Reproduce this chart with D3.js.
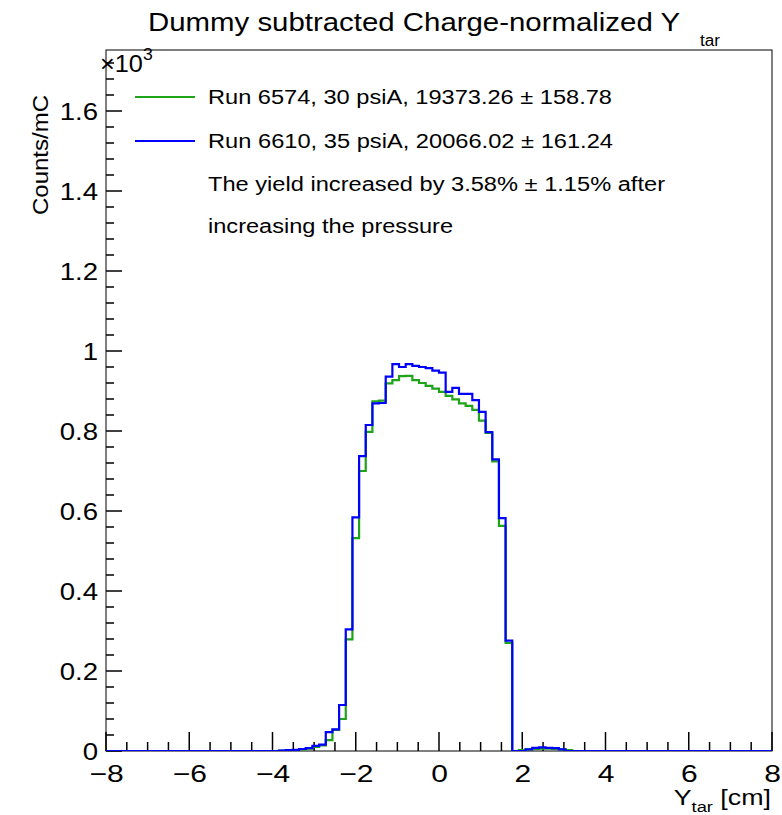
<!DOCTYPE html>
<html>
<head>
<meta charset="utf-8">
<script src="https://cdn.jsdelivr.net/npm/d3@7"></script>
<style>
  html, body { margin: 0; padding: 0; background: #fff; }
  svg { display: block; font-family: "Liberation Sans", Arial, Helvetica, sans-serif; }
</style>
</head>
<body>
<svg id="chart" width="782" height="815"></svg>
<script>
// ---------------- data ----------------
const nBins = 100;
const xMin = -8, xMax = 8;
// Charge-normalized counts per bin (counts/mC), bins 0..99
const run6574 = [
  0,0,0,0,0,0,0,0,0,0,
  0,0,0,0,0,0,0,0,0,0,
  0,0,0,0,0,0,1,1,2,4,
  6,10,14,27,53,80,279,532,700,798,
  874,876,919,927,937,938,927,920,913,906,
  898,888,879,869,863,853,826,795,724,563,
  270,0,2,4,5,6,6,5,4,2,
  0,0,0,0,0,0,0,0,0,0,
  0,0,0,0,0,0,0,0,0,0,
  0,0,0,0,0,0,0,0,0,0
];
const run6610 = [
  0,0,0,0,0,0,0,0,0,0,
  0,0,0,0,0,0,0,0,0,0,
  0,0,0,0,0,0,1,2,3,5,
  7,13,16,47,54,115,304,584,737,815,
  869,870,936,967,960,967,963,960,957,951,
  946,898,908,893,893,877,848,797,729,582,
  276,0,0,4,8,9,8,7,4,0,
  0,0,0,0,0,0,0,0,0,0,
  0,0,0,0,0,0,0,0,0,0,
  0,0,0,0,0,0,0,0,0,0
];
const seriesNames = [
  "Run 6574, 30 psiA, 19373.26 \u00b1 158.78",
  "Run 6610, 35 psiA, 20066.02 \u00b1 161.24"
];
const noteLines = [
  "The yield increased by 3.58% \u00b1 1.15% after",
  "increasing the pressure"
];
const xTickValues = [-8, -6, -4, -2, 0, 2, 4, 6, 8];
const yTickValues = [0, 200, 400, 600, 800, 1000, 1200, 1400, 1600];
const yMax = 1752.5;

// ---------------- layout ----------------
const L = 106, R = 772, T = 50, B = 751;
const svg = d3.select("#chart");
const x = d3.scaleLinear().domain([xMin, xMax]).range([L, R]);
const y = d3.scaleLinear().domain([0, yMax]).range([B, T]);
const binW = (xMax - xMin) / nBins;
const SX = 1.2; // horizontal stretch of the reference lettering

const colors = ["#1fa31a", "#0000ff"];

svg.append("defs").append("clipPath").attr("id", "clip")
  .append("rect").attr("x", L).attr("y", T).attr("width", R - L).attr("height", B - T);

function stepPath(vals) {
  let d = "";
  vals.forEach((v, i) => {
    const x0 = x(xMin + i * binW), x1 = x(xMin + (i + 1) * binW);
    const yy = y(v);
    d += (i === 0 ? "M" : "L") + x0 + "," + yy + "L" + x1 + "," + yy;
  });
  return d;
}

// frame
svg.append("rect").attr("x", L).attr("y", T).attr("width", R - L).attr("height", B - T)
  .attr("fill", "none").attr("stroke", "#000").attr("stroke-width", 1);

// x axis labels
const xAxis = d3.axisBottom(x).tickValues(xTickValues).tickSize(0)
  .tickFormat(d => d < 0 ? "\u2212" + Math.abs(d) : String(d));
const gx = svg.append("g").attr("transform", `translate(0,${B})`).call(xAxis);
gx.select(".domain").remove();
gx.selectAll(".tick text").attr("font-size", 24).attr("dy", 0).attr("y", 0).attr("fill", "#000")
  .attr("font-family", "Liberation Sans, Arial, sans-serif")
  .attr("transform", `translate(0,31) scale(1.25,1)`);

const xMinor = d3.range(0, 33).map(i => xMin + i * 0.5);
svg.append("g").selectAll("line").data(xMinor).join("line")
  .attr("x1", d => x(d)).attr("x2", d => x(d))
  .attr("y1", B).attr("y2", d => B - (Math.abs(d % 2) < 1e-9 ? 19 : 9))
  .attr("stroke", "#000").attr("stroke-width", 1.5);

// y axis labels
const yAxis = d3.axisLeft(y).tickValues(yTickValues).tickSize(0)
  .tickFormat(d => d3.format("~g")(d / 1000));
const gy = svg.append("g").attr("transform", `translate(${L},0)`).call(yAxis);
gy.select(".domain").remove();
gy.selectAll(".tick text").attr("font-size", 23).attr("x", 0).attr("dy", "0.36em").attr("fill", "#000")
  .attr("font-family", "Liberation Sans, Arial, sans-serif")
  .attr("transform", `translate(-8,0) scale(${SX},1)`);

const yMinor = d3.range(0, 44).map(i => i * 40);
svg.append("g").selectAll("line").data(yMinor).join("line")
  .attr("x1", L).attr("x2", d => L + (d % 200 === 0 ? 16 : 8))
  .attr("y1", d => y(d)).attr("y2", d => y(d))
  .attr("stroke", "#000").attr("stroke-width", 1.5);

// histograms
const gh = svg.append("g").attr("clip-path", "url(#clip)");
[run6574, run6610].forEach((vals, i) => {
  gh.append("path").attr("d", stepPath(vals))
    .attr("fill", "none").attr("stroke", colors[i]).attr("stroke-width", 2.2);
});

// title
svg.append("text").attr("x", 148).attr("y", 31)
  .attr("font-size", 26).attr("fill", "#000")
  .attr("textLength", 532).attr("lengthAdjust", "spacingAndGlyphs")
  .text("Dummy subtracted Charge-normalized Y");
svg.append("text").attr("x", 700).attr("y", 46).attr("font-size", 16).attr("fill", "#000")
  .attr("textLength", 20).attr("lengthAdjust", "spacingAndGlyphs").text("tar");

// exponent
const ex = svg.append("text").attr("transform", "translate(100,72) scale(1.1,1)")
  .attr("font-size", 23).attr("fill", "#000");
ex.append("tspan").text("\u00d710");
ex.append("tspan").attr("font-size", 16).attr("dy", -12).text("3");

// y title
svg.append("text").attr("transform", "translate(48,95) rotate(-90)").attr("text-anchor", "end")
  .attr("font-size", 22).attr("fill", "#000")
  .attr("textLength", 120).attr("lengthAdjust", "spacingAndGlyphs").text("Counts/mC");

// x title
const xtg = svg.append("g").attr("transform", "translate(771,805)");
const xt = xtg.append("text").attr("text-anchor", "end").attr("font-size", 22).attr("fill", "#000")
  .attr("transform", `scale(1.22,1)`);
xt.append("tspan").text("Y");
xt.append("tspan").attr("font-size", 15).attr("dy", 7).text("tar");
xt.append("tspan").attr("dy", -7).text(" [cm]");

// legend
const legY = [97, 141];
const legW = [404, 405];
seriesNames.forEach((name, i) => {
  svg.append("line").attr("x1", 135).attr("x2", 195).attr("y1", legY[i]).attr("y2", legY[i])
    .attr("stroke", colors[i]).attr("stroke-width", 2.2);
  svg.append("text").attr("x", 208).attr("y", legY[i] + 7).attr("font-size", 20).attr("fill", "#000")
    .attr("textLength", legW[i]).attr("lengthAdjust", "spacingAndGlyphs").text(name);
});
const noteY = [184, 226];
const noteW = [457, 245];
noteLines.forEach((t, i) => {
  svg.append("text").attr("x", 208).attr("y", noteY[i] + 7).attr("font-size", 20).attr("fill", "#000")
    .attr("textLength", noteW[i]).attr("lengthAdjust", "spacingAndGlyphs").text(t);
});
</script>
</body>
</html>
